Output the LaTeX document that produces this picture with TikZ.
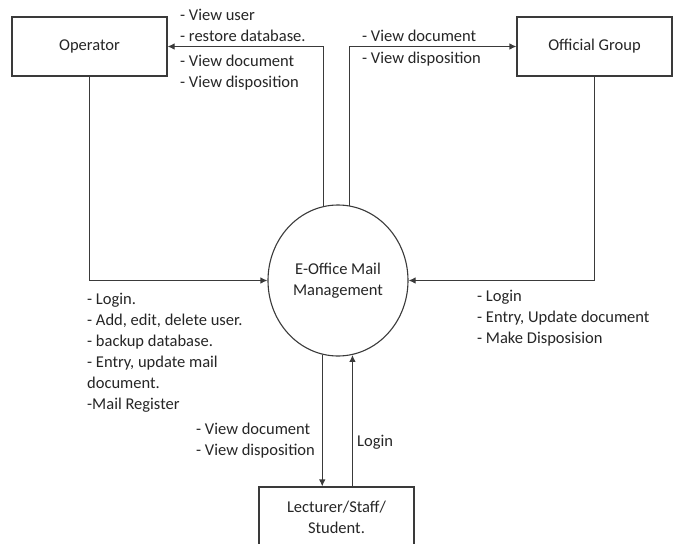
\documentclass[tikz,border=0pt]{standalone}
\usepackage{fontspec}
\setmainfont{Carlito}
\usetikzlibrary{shapes.geometric,arrows.meta}
\definecolor{ln}{HTML}{3A3A3A}
\definecolor{tx}{HTML}{262626}
\begin{document}
\begin{tikzpicture}[x=1pt,y=-1pt,
  font=\fontsize{16.5}{21}\selectfont,
  entity/.style={draw=ln,line width=1.1pt,minimum width=155pt,text=tx,align=center,inner sep=0pt},
  proc/.style={ellipse,draw=ln,line width=1.1pt,minimum width=140pt,minimum height=151pt,text=tx,align=center,inner sep=0pt},
  flow/.style={draw=ln,line width=1.1pt,-{Latex[length=7pt,width=6.5pt]}},
  lbl/.style={anchor=west,align=left,inner sep=0pt,text=tx}]
\useasboundingbox (0,0) rectangle (678,544);
\clip (0,0) rectangle (678,544);
\fill[white] (0,0) rectangle (678,544);

\node[entity,minimum height=59pt] (op) at (89.5,46.5) {Operator};
\node[entity,minimum height=59pt] (og) at (594.5,46.5) {Official Group};
\node[proc] (c) at (338,280.5) {E-Office Mail\\Management};
\node[entity,minimum height=61pt] (lec) at (336.5,517.5) {Lecturer/Staff/\\Student.};

\draw[flow] (c.101.5) |- (op.east);
\draw[flow] (c.81.6) |- (og.west);
\draw[flow] (op.south) |- (c.west);
\draw[flow] (og.south) |- (c.east);
\draw[flow] (c.258.5) -- (c.258.5 |- lec.north);
\draw[flow] (c.-79.3 |- lec.north) -- (c.-79.3);

\node[lbl] (t1) at (180,25.5) {- View user\\- restore database.};
\node[lbl] (t2) at (180,73) {- View document\\- View disposition};
\node[lbl] (t3) at (362,48) {- View document\\[1pt]- View disposition};
\node[lbl] (t4) at (87,352.5) {- Login.\\- Add, edit, delete user.\\- backup database.\\- Entry, update mail\\document.\\-Mail Register};
\node[lbl] (t5) at (477,318) {- Login\\- Entry, Update document\\- Make Disposision};
\node[lbl] (t6) at (196,441) {- View document\\- View disposition};
\node[lbl] (t7) at (357,442) {Login};
\end{tikzpicture}
\end{document}
